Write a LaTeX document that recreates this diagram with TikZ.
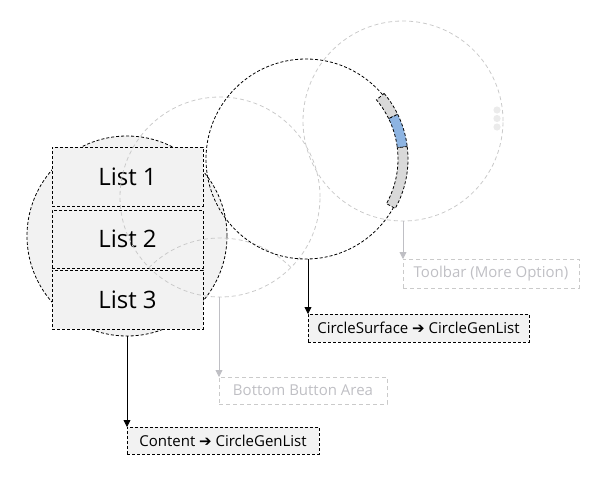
\documentclass[tikz,border=0pt]{standalone}
\usepackage{fontspec}
\setmainfont{Open Sans}
\newfontfamily\dv{DejaVu Sans}
\usetikzlibrary{arrows.meta,calc}
\definecolor{boxfill}{HTML}{F2F2F2}
\definecolor{lightline}{HTML}{CACACA}
\definecolor{graytext}{HTML}{BFBFC4}
\definecolor{bandgray}{HTML}{D9D9D9}
\definecolor{bandblue}{HTML}{8DB4E2}
\definecolor{dotgray}{HTML}{EBEBEB}
\begin{document}
\begin{tikzpicture}[x=1pt,y=-1pt,
 darkdash/.style={draw=black, dash pattern=on 3pt off 2pt, line width=0.8pt},
 lightdash/.style={draw=lightline, dash pattern=on 4pt off 3pt, line width=0.8pt},
 ring/.style={circle, minimum size=200pt, inner sep=0pt, outer sep=0pt},
 listbox/.style={darkdash, fill=boxfill, minimum width=151pt, inner sep=0pt, outer sep=0pt, font=\fontsize{24}{28}\selectfont},
 tagbox/.style={darkdash, fill=boxfill, inner sep=0pt, outer sep=0pt, font=\fontsize{15}{18}\selectfont},
 ghostbox/.style={lightdash, text=graytext, inner sep=0pt, outer sep=0pt, font=\fontsize{15}{18}\selectfont},
 darkarrow/.style={draw=black, line width=0.8pt, -{Triangle[width=7pt,length=7pt]}},
 lightarrow/.style={draw=graytext, line width=0.8pt, -{Triangle[width=7pt,length=7pt]}},
]
\useasboundingbox (0,0) rectangle (601,482);

% content circle and list boxes
\node[ring, darkdash, fill=boxfill] (c1) at (127,236) {};
\node[listbox, minimum height=59pt] (l1) at (127.5,176.5) {List 1};
\node[listbox, minimum height=58pt] (l2) at (127.5,239) {List 2};
\node[listbox, minimum height=59pt] (l3) at (127.5,299.5) {List 3};

% bottom button circle and lens
\node[ring, lightdash] (c2) at (220,197) {};
\begin{scope}
  \clip (220,197) circle[radius=100];
  \draw[lightdash] (220,338) circle[radius=100];
\end{scope}

% toolbar circle with dots
\node[ring, lightdash] (c5) at (403,121) {};
\fill[dotgray] (497,110) circle[radius=3.6];
\fill[dotgray] (497,118.5) circle[radius=3.6];
\fill[dotgray] (497,127) circle[radius=3.6];

% circle surface
\node[ring, darkdash] (c4) at (306,159) {};

% scroll band
\filldraw[fill=bandgray, darkdash] ($(c4.center)+(-40:102)$) arc[start angle=-40,end angle=-26,radius=102] -- ($(c4.center)+(-26:92)$) arc[start angle=-26,end angle=-40,radius=92] -- cycle;
\filldraw[fill=bandblue, darkdash] ($(c4.center)+(-26:102)$) arc[start angle=-26,end angle=-7,radius=102] -- ($(c4.center)+(-7:92)$) arc[start angle=-7,end angle=-26,radius=92] -- cycle;
\filldraw[fill=bandgray, darkdash] ($(c4.center)+(-7:102)$) arc[start angle=-7,end angle=29,radius=102] -- ($(c4.center)+(29:92)$) arc[start angle=29,end angle=-7,radius=92] -- cycle;

% label boxes
\node[tagbox, minimum width=221pt, minimum height=28pt] (cs) at (418.5,328) {CircleSurface {\dv\char"2794} CircleGenList};
\node[tagbox, minimum width=192pt, minimum height=27pt] (ct) at (223,440.5) {Content {\dv\char"2794} CircleGenList};
\node[ghostbox, minimum width=176pt, minimum height=29pt] (tb) at (491,273.5) {Toolbar (More Option)};
\node[ghostbox, minimum width=168pt, minimum height=27pt] (bb) at (303,390.5) {Bottom Button Area};

% connectors
\draw[darkarrow] (ct.north west |- c1.south) -- (ct.north west);
\draw[darkarrow] (cs.north west |- c4.south) -- (cs.north west);
\draw[lightarrow] (bb.north west |- c2.south) -- (bb.north west);
\draw[lightarrow] (tb.north west |- c5.south) -- (tb.north west);
\end{tikzpicture}
\end{document}
